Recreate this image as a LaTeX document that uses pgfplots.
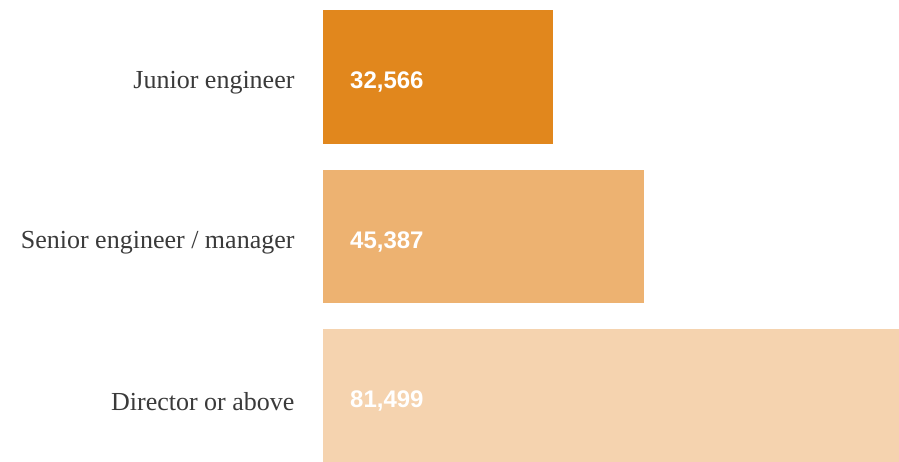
\documentclass[border=0pt]{standalone}
\usepackage{pgfplots}
\pgfplotsset{compat=1.18}
\usepackage{fontspec}
\setmainfont{Liberation Serif}
\setsansfont{Liberation Sans}
\definecolor{c1}{HTML}{E1871D}
\definecolor{c2}{HTML}{EDB271}
\definecolor{c3}{HTML}{F5D3AF}
\definecolor{lab}{HTML}{3A3A3A}
\begin{document}
\begin{tikzpicture}
\useasboundingbox (0pt,0pt) rectangle (899pt,462pt);
\begin{axis}[
  at={(323pt,452pt)}, anchor=north west,
  scale only axis, width=576pt, height=453pt,
  xmin=0, xmax=81499,
  ymin=-0.42, ymax=2.42, y dir=reverse,
  axis line style={draw=none},
  tick style={draw=none},
  xtick=\empty,
  ytick={0,1,2},
  yticklabels={Junior engineer, Senior engineer / manager, Director or above},
  major tick length=0pt,
  yticklabel style={font=\fontsize{26}{30}\selectfont, text=lab, anchor=east, xshift=-25pt, yshift=-6pt},
  clip=false,
  /pgf/number format/assume math mode=true,
]
\addplot[xbar, bar width=0.84, bar shift=0pt, fill=c1, draw=none] coordinates {(32566,0)};
\addplot[xbar, bar width=0.84, bar shift=0pt, fill=c2, draw=none] coordinates {(45387,1)};
\addplot[xbar, bar width=0.84, bar shift=0pt, fill=c3, draw=none] coordinates {(81499,2)};
\addplot[only marks, mark=none, draw=none, point meta=explicit,
  nodes near coords={\pgfmathprintnumber[fixed, precision=0, 1000 sep={,}]{\pgfplotspointmeta}},
  nodes near coords style={anchor=west, xshift=27pt, yshift=-5pt, text=white,
    font=\sffamily\bfseries\fontsize{24}{28}\selectfont, inner sep=0pt}]
  coordinates {(0,0)[32566] (0,1)[45387] (0,2)[81499]};
\end{axis}
\end{tikzpicture}
\end{document}
